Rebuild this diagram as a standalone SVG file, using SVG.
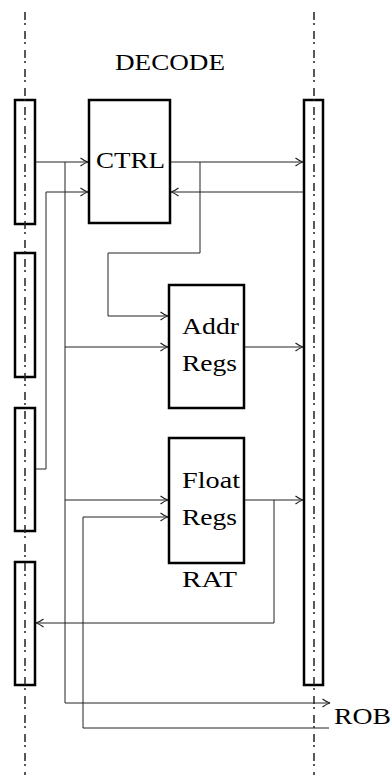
<svg xmlns="http://www.w3.org/2000/svg" width="392" height="780" viewBox="0 0 392 780">
<style>
.box{fill:none;stroke:#000;stroke-width:2.5}
.lane{fill:none;stroke:#222;stroke-width:1.5;stroke-dasharray:8 3 2 6}
.c{fill:none;stroke:#222;stroke-width:1}
.a{marker-end:url(#arr)}
text{font-family:"Liberation Serif","DejaVu Serif",serif;font-size:24px;fill:#000}
</style>
<defs>
<marker id="arr" markerUnits="userSpaceOnUse" markerWidth="12" markerHeight="10" viewBox="-8 -4 9 8" refX="0" refY="0" orient="auto">
<path d="M-6,-3.2 Q-2.5,-0.6 0,0 Q-2.5,0.6 -6,3.2" fill="none" stroke="#222" stroke-width="1"/>
</marker>
</defs>
<rect width="392" height="780" fill="#fff"/>
<g id="title"><text x="170" y="70" text-anchor="middle" textLength="110" lengthAdjust="spacingAndGlyphs">DECODE</text></g>
<g id="bar1"><rect class="box" x="15" y="100" width="20" height="124"/></g>
<g id="bar2"><rect class="box" x="15" y="253" width="20" height="124"/></g>
<g id="bar3"><rect class="box" x="15" y="408" width="20" height="123"/></g>
<g id="bar4"><rect class="box" x="15" y="562" width="20" height="123"/></g>
<g id="rbar"><rect class="box" x="304" y="100" width="19" height="585"/></g>
<g id="lanes">
<line class="lane" x1="25" y1="12" x2="25" y2="775"/>
<line class="lane" x1="314" y1="12" x2="314" y2="775"/>
</g>
<g id="ctrl"><rect class="box" x="89" y="100" width="81" height="123"/>
<text x="96" y="168" textLength="69" lengthAdjust="spacingAndGlyphs">CTRL</text></g>
<g id="addr"><rect class="box" x="169" y="285" width="75" height="123"/>
<text x="182" y="334" textLength="57" lengthAdjust="spacingAndGlyphs">Addr</text>
<text x="182" y="371" textLength="55" lengthAdjust="spacingAndGlyphs">Regs</text></g>
<g id="float"><rect class="box" x="169" y="438" width="75" height="125"/>
<text x="182" y="488" textLength="58" lengthAdjust="spacingAndGlyphs">Float</text>
<text x="182" y="525" textLength="55" lengthAdjust="spacingAndGlyphs">Regs</text>
<text x="182" y="587" textLength="55" lengthAdjust="spacingAndGlyphs">RAT</text></g>
<g id="rob"><text x="334" y="724" textLength="57" lengthAdjust="spacingAndGlyphs">ROB</text></g>
<g id="connectors">
<path class="c a" d="M36,162 H88"/>
<path class="c a" d="M65,162 V703 H330"/>
<path class="c a" d="M65,347 H168"/>
<path class="c a" d="M65,500 H168"/>
<path class="c a" d="M36,469 H46 V192 H88"/>
<path class="c a" d="M171,162 H303"/>
<path class="c a" d="M200,162 V253 H108 V316 H168"/>
<path class="c a" d="M303,192 H171"/>
<path class="c a" d="M245,347 H303"/>
<path class="c a" d="M245,500 H303"/>
<path class="c a" d="M274,500 V623 H36"/>
<path class="c a" d="M329,728 H83 V517 H168"/>
</g>
</svg>
